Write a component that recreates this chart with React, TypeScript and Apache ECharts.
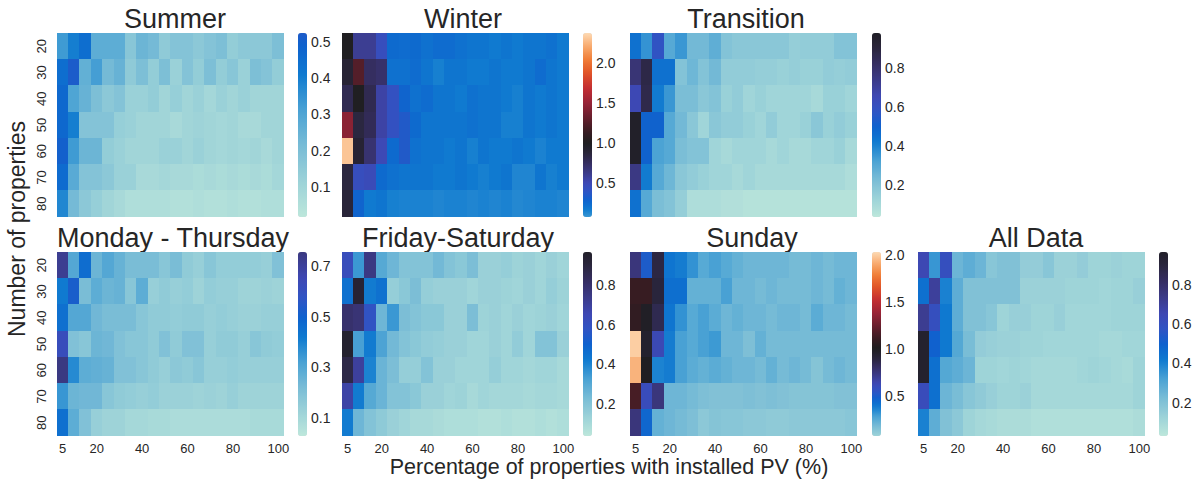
import React, { useEffect, useRef } from "react";
import * as echarts from "echarts";

// ---------- data ----------
const xCats = ["5","10","15","20","25","30","35","40","45","50","55","60","65","70","75","80","85","90","95","100"];
const yCats = ["20","30","40","50","60","70","80"];
const xLabelShown = ["5","20","40","60","80","100"];

const summer = [
  [0.33,0.40,0.45,0.27,0.27,0.27,0.17,0.24,0.22,0.15,0.18,0.18,0.16,0.18,0.20,0.14,0.16,0.16,0.16,0.20],
  [0.45,0.52,0.26,0.32,0.22,0.25,0.15,0.20,0.14,0.20,0.12,0.18,0.14,0.20,0.14,0.17,0.12,0.20,0.18,0.14],
  [0.47,0.30,0.25,0.20,0.16,0.18,0.12,0.12,0.14,0.10,0.13,0.10,0.12,0.09,0.12,0.10,0.12,0.10,0.10,0.10],
  [0.47,0.40,0.18,0.18,0.18,0.13,0.12,0.10,0.10,0.10,0.08,0.10,0.11,0.10,0.09,0.10,0.08,0.08,0.10,0.10],
  [0.50,0.33,0.24,0.24,0.14,0.12,0.10,0.10,0.10,0.12,0.12,0.10,0.12,0.10,0.09,0.10,0.09,0.10,0.08,0.10],
  [0.46,0.28,0.18,0.18,0.16,0.12,0.12,0.08,0.08,0.09,0.08,0.08,0.07,0.08,0.07,0.08,0.07,0.08,0.07,0.09],
  [0.38,0.22,0.16,0.13,0.10,0.08,0.06,0.06,0.06,0.06,0.05,0.05,0.06,0.05,0.05,0.06,0.05,0.05,0.06,0.06],
];
const winter = [
  [1.00,0.60,0.60,0.45,0.25,0.24,0.25,0.22,0.24,0.24,0.22,0.20,0.20,0.18,0.20,0.18,0.20,0.20,0.22,0.18],
  [0.90,1.25,0.75,0.72,0.22,0.22,0.24,0.20,0.16,0.20,0.20,0.18,0.18,0.20,0.18,0.18,0.20,0.24,0.20,0.18],
  [0.80,1.00,0.80,0.55,0.42,0.28,0.22,0.24,0.20,0.20,0.18,0.22,0.20,0.20,0.18,0.16,0.20,0.18,0.20,0.18],
  [1.45,0.85,0.78,0.55,0.42,0.35,0.25,0.20,0.20,0.20,0.20,0.22,0.20,0.20,0.16,0.16,0.20,0.18,0.20,0.18],
  [2.30,0.90,0.70,0.50,0.25,0.35,0.22,0.20,0.20,0.18,0.20,0.16,0.20,0.18,0.18,0.20,0.18,0.15,0.18,0.18],
  [0.85,0.45,0.48,0.25,0.22,0.20,0.20,0.20,0.18,0.18,0.20,0.18,0.16,0.18,0.20,0.14,0.14,0.20,0.16,0.18],
  [0.88,0.28,0.18,0.20,0.16,0.15,0.15,0.15,0.14,0.15,0.15,0.14,0.15,0.14,0.15,0.13,0.14,0.15,0.15,0.14],
];
const transition = [
  [0.45,0.36,0.58,0.30,0.35,0.24,0.24,0.28,0.20,0.18,0.18,0.18,0.18,0.18,0.15,0.16,0.16,0.16,0.20,0.20],
  [0.78,0.88,0.45,0.45,0.20,0.25,0.20,0.24,0.16,0.16,0.16,0.15,0.15,0.14,0.15,0.14,0.14,0.16,0.15,0.16],
  [0.65,0.87,0.42,0.35,0.22,0.22,0.18,0.20,0.14,0.16,0.12,0.14,0.12,0.12,0.12,0.12,0.10,0.14,0.14,0.12],
  [0.97,0.50,0.50,0.30,0.24,0.18,0.12,0.18,0.16,0.16,0.14,0.12,0.16,0.12,0.12,0.14,0.18,0.14,0.16,0.14],
  [0.97,0.50,0.32,0.30,0.22,0.20,0.20,0.12,0.10,0.12,0.12,0.12,0.10,0.12,0.10,0.10,0.12,0.12,0.14,0.10],
  [0.75,0.42,0.30,0.25,0.18,0.16,0.14,0.12,0.12,0.10,0.12,0.10,0.10,0.10,0.10,0.10,0.10,0.10,0.10,0.08],
  [0.45,0.30,0.22,0.20,0.15,0.08,0.08,0.08,0.07,0.07,0.06,0.06,0.06,0.06,0.06,0.06,0.06,0.06,0.06,0.06],
];
const monThu = [
  [0.72,0.30,0.46,0.25,0.30,0.26,0.22,0.22,0.22,0.18,0.22,0.16,0.14,0.18,0.15,0.15,0.15,0.15,0.14,0.20],
  [0.42,0.52,0.22,0.28,0.25,0.26,0.18,0.28,0.14,0.16,0.14,0.15,0.12,0.15,0.14,0.14,0.12,0.12,0.13,0.12],
  [0.45,0.30,0.30,0.24,0.22,0.22,0.22,0.18,0.16,0.16,0.15,0.16,0.16,0.14,0.15,0.14,0.13,0.13,0.14,0.14],
  [0.62,0.20,0.18,0.25,0.24,0.20,0.18,0.18,0.16,0.20,0.16,0.20,0.20,0.14,0.16,0.16,0.14,0.18,0.16,0.15],
  [0.75,0.38,0.28,0.27,0.26,0.20,0.20,0.18,0.16,0.14,0.17,0.16,0.18,0.14,0.14,0.15,0.14,0.14,0.14,0.14],
  [0.35,0.25,0.24,0.24,0.18,0.16,0.15,0.14,0.15,0.13,0.13,0.13,0.12,0.13,0.12,0.14,0.12,0.12,0.12,0.12],
  [0.45,0.28,0.20,0.14,0.12,0.12,0.10,0.10,0.09,0.09,0.08,0.08,0.08,0.08,0.08,0.08,0.08,0.09,0.09,0.09],
];
const friSat = [
  [0.62,0.35,0.75,0.30,0.25,0.20,0.20,0.20,0.24,0.20,0.18,0.22,0.14,0.14,0.15,0.13,0.14,0.12,0.14,0.12],
  [0.45,0.93,0.42,0.45,0.15,0.18,0.22,0.15,0.14,0.14,0.14,0.12,0.14,0.14,0.13,0.12,0.14,0.12,0.15,0.13],
  [0.80,0.78,0.58,0.25,0.35,0.22,0.20,0.18,0.18,0.14,0.14,0.22,0.13,0.14,0.12,0.14,0.12,0.13,0.14,0.12],
  [0.95,0.33,0.42,0.32,0.24,0.20,0.18,0.16,0.15,0.14,0.14,0.12,0.12,0.14,0.12,0.16,0.12,0.20,0.20,0.14],
  [0.88,0.70,0.40,0.26,0.22,0.15,0.15,0.20,0.14,0.14,0.12,0.12,0.12,0.15,0.12,0.12,0.11,0.12,0.12,0.10],
  [0.68,0.42,0.30,0.26,0.20,0.20,0.18,0.14,0.14,0.12,0.13,0.10,0.12,0.11,0.11,0.11,0.10,0.11,0.11,0.10],
  [0.42,0.25,0.20,0.17,0.14,0.12,0.10,0.10,0.09,0.08,0.08,0.08,0.07,0.07,0.08,0.07,0.07,0.08,0.07,0.08],
];
const sunday = [
  [0.75,0.50,0.88,0.40,0.38,0.32,0.25,0.28,0.25,0.22,0.20,0.20,0.20,0.20,0.18,0.18,0.20,0.18,0.20,0.20],
  [1.10,1.10,0.90,0.42,0.42,0.22,0.22,0.22,0.28,0.20,0.20,0.18,0.20,0.18,0.18,0.18,0.20,0.18,0.22,0.20],
  [1.08,0.98,0.85,0.40,0.32,0.25,0.28,0.24,0.20,0.22,0.20,0.20,0.18,0.20,0.20,0.18,0.24,0.20,0.20,0.18],
  [2.00,0.95,0.62,0.38,0.28,0.25,0.28,0.30,0.20,0.20,0.16,0.22,0.18,0.18,0.18,0.18,0.18,0.18,0.18,0.18],
  [1.93,1.00,0.36,0.38,0.28,0.24,0.22,0.24,0.22,0.20,0.20,0.18,0.22,0.18,0.20,0.18,0.14,0.18,0.20,0.18],
  [1.15,0.60,0.75,0.20,0.20,0.18,0.16,0.15,0.15,0.15,0.16,0.15,0.16,0.15,0.14,0.14,0.14,0.14,0.15,0.15],
  [0.75,0.45,0.22,0.20,0.18,0.16,0.12,0.14,0.13,0.13,0.12,0.12,0.11,0.11,0.12,0.12,0.12,0.12,0.12,0.13],
];
const allData = [
  [0.65,0.35,0.60,0.25,0.28,0.25,0.18,0.20,0.20,0.15,0.15,0.18,0.13,0.13,0.15,0.12,0.12,0.13,0.12,0.12],
  [0.45,0.70,0.40,0.28,0.20,0.20,0.20,0.20,0.20,0.13,0.13,0.13,0.13,0.12,0.12,0.12,0.11,0.12,0.12,0.14],
  [0.72,0.60,0.42,0.28,0.20,0.20,0.18,0.12,0.14,0.14,0.12,0.12,0.14,0.11,0.11,0.11,0.11,0.12,0.12,0.12],
  [0.95,0.50,0.42,0.30,0.22,0.15,0.14,0.13,0.13,0.12,0.12,0.11,0.11,0.11,0.11,0.11,0.10,0.10,0.11,0.11],
  [0.95,0.45,0.30,0.28,0.25,0.12,0.12,0.11,0.12,0.11,0.10,0.10,0.10,0.10,0.11,0.12,0.11,0.10,0.09,0.12],
  [0.62,0.45,0.25,0.22,0.18,0.16,0.14,0.12,0.12,0.13,0.10,0.10,0.10,0.10,0.10,0.10,0.10,0.10,0.10,0.12],
  [0.40,0.28,0.20,0.17,0.12,0.10,0.09,0.08,0.08,0.08,0.07,0.07,0.07,0.07,0.07,0.07,0.07,0.07,0.07,0.08],
];

const panelNames = ["Summer", "Winter", "Transition", "Monday - Thursday", "Friday-Saturday", "Sunday", "All Data"];
const panelData = [summer, winter, transition, monThu, friSat, sunday, allData];
const cbarMin = [0.017, 0.08, 0.036, 0.03, 0.037, 0.07, 0.03];
const cbarMax = [0.525, 2.37, 0.98, 0.755, 0.968, 2.03, 0.967];
const cbarTicks = [
  [0.1, 0.2, 0.3, 0.4, 0.5],
  [0.5, 1.0, 1.5, 2.0],
  [0.2, 0.4, 0.6, 0.8],
  [0.1, 0.3, 0.5, 0.7],
  [0.2, 0.4, 0.6, 0.8],
  [0.5, 1.0, 1.5, 2.0],
  [0.2, 0.4, 0.6, 0.8],
];
const cmapCenter = 1.0;
const xAxisTitle = "Percentage of properties with installed PV (%)";
const yAxisTitle = "Number of properties";

// ---------- layout / style ----------
const FONT = "'Liberation Sans', Arial, Helvetica, sans-serif";
const TXT = "#262626";
const heatLeft = [57, 342, 630, 918];
const heatWidth = 227;
const cbLeft = [298, 583, 872, 1159];
const cbWidth = 9;
const rowTop = [33, 252];
const rowHeight = 184;
const panelPos = [[0, 0], [1, 0], [2, 0], [0, 1], [1, 1], [2, 1], [3, 1]];
const titleCx = [175, 463, 746, 173, 458, 752, 1036];
const titleCy = [19, 238];

// icefire-like colormap stops
const ICEFIRE: [number, number, number, number][] = [
  [0.0, 189, 231, 219],
  [0.05, 156, 210, 216],
  [0.1, 120, 188, 214],
  [0.15, 74, 162, 212],
  [0.2, 15, 122, 208],
  [0.24, 14, 98, 206],
  [0.28, 48, 84, 196],
  [0.32, 62, 72, 180],
  [0.36, 60, 60, 140],
  [0.4, 55, 48, 104],
  [0.45, 42, 37, 60],
  [0.5, 30, 30, 32],
  [0.55, 55, 28, 34],
  [0.6, 90, 30, 42],
  [0.68, 150, 35, 55],
  [0.75, 195, 45, 50],
  [0.82, 225, 85, 40],
  [0.88, 240, 125, 55],
  [0.94, 248, 170, 110],
  [1.0, 253, 218, 180],
];
function icefire(t: number): string {
  const x = Math.max(0, Math.min(1, t));
  for (let i = 1; i < ICEFIRE.length; i++) {
    const a = ICEFIRE[i - 1], b = ICEFIRE[i];
    if (x <= b[0]) {
      const f = (x - a[0]) / (b[0] - a[0]);
      const r = Math.round(a[1] + (b[1] - a[1]) * f);
      const g = Math.round(a[2] + (b[2] - a[2]) * f);
      const bl = Math.round(a[3] + (b[3] - a[3]) * f);
      return `rgb(${r},${g},${bl})`;
    }
  }
  return "rgb(253,218,180)";
}
function panelColors(vmin: number, vmax: number): string[] {
  const vr = Math.max(vmax - cmapCenter, cmapCenter - vmin);
  const lo = cmapCenter - vr;
  const c0 = (vmin - lo) / (2 * vr);
  const c1 = (vmax - lo) / (2 * vr);
  const out: string[] = [];
  const n = 48;
  for (let i = 0; i <= n; i++) out.push(icefire(c0 + ((c1 - c0) * i) / n));
  return out;
}

function buildOption() {
  const grid: any[] = [];
  const xAxis: any[] = [];
  const yAxis: any[] = [];
  const series: any[] = [];
  const visualMap: any[] = [];
  const graphic: any[] = [];

  panelNames.forEach((name, i) => {
    const [col, row] = panelPos[i];
    const top = rowTop[row];
    grid.push({ left: heatLeft[col], top, width: heatWidth, height: rowHeight, containLabel: false });
    grid.push({ left: cbLeft[col], top, width: cbWidth, height: rowHeight, containLabel: false });
    const hg = 2 * i, cg = 2 * i + 1;
    xAxis.push({
      gridIndex: hg,
      type: "category",
      data: xCats,
      axisLine: { show: false },
      axisTick: { show: false },
      splitLine: { show: false },
      axisLabel: {
        show: row === 1,
        interval: (_idx: number, val: string) => xLabelShown.includes(val),
        fontSize: 13,
        color: TXT,
        fontFamily: FONT,
        margin: 6,
      },
    });
    yAxis.push({
      gridIndex: hg,
      type: "category",
      data: yCats,
      inverse: true,
      axisLine: { show: false },
      axisTick: { show: false },
      splitLine: { show: false },
      axisLabel: {
        show: col === 0,
        rotate: 90,
        fontSize: 13,
        color: TXT,
        fontFamily: FONT,
        margin: 9,
      },
    });
    xAxis.push({ gridIndex: cg, type: "value", show: false, min: 0, max: 1 });
    yAxis.push({
      gridIndex: cg,
      type: "value",
      position: "right",
      min: cbarMin[i],
      max: cbarMax[i],
      axisLine: { show: false },
      splitLine: { show: false },
      axisTick: {
        show: true,
        length: 4,
        lineStyle: { color: TXT, width: 1 },
        customValues: cbarTicks[i],
      },
      axisLabel: {
        customValues: cbarTicks[i],
        formatter: (v: number) => v.toFixed(1),
        fontSize: 14,
        color: TXT,
        fontFamily: FONT,
        margin: 4,
      },
    });
    const data: any[] = [];
    panelData[i].forEach((r, yi) => r.forEach((v, xi) => data.push([xi, yi, v])));
    series.push({
      type: "heatmap",
      name,
      xAxisIndex: hg,
      yAxisIndex: hg,
      data,
      emphasis: { disabled: true },
      itemStyle: { borderWidth: 0 },
      silent: true,
    });
    visualMap.push({
      type: "continuous",
      seriesIndex: i,
      min: cbarMin[i],
      max: cbarMax[i],
      calculable: false,
      orient: "vertical",
      left: cbLeft[col],
      top,
      itemWidth: cbWidth,
      itemHeight: rowHeight,
      padding: 0,
      hoverLink: false,
      text: ["", ""],
      inRange: { color: panelColors(cbarMin[i], cbarMax[i]) },
    });
    graphic.push({
      type: "text",
      x: titleCx[i],
      y: titleCy[row],
      style: {
        text: name,
        fill: TXT,
        font: `27px ${FONT}`,
        textAlign: "center",
        textVerticalAlign: "middle",
      },
    });
  });

  graphic.push({
    type: "text",
    x: 609,
    y: 467,
    style: { text: xAxisTitle, fill: TXT, font: `21.5px ${FONT}`, textAlign: "center", textVerticalAlign: "middle" },
  });
  graphic.push({
    type: "text",
    x: 17,
    y: 229,
    rotation: Math.PI / 2,
    style: { text: yAxisTitle, fill: TXT, font: `23px ${FONT}`, textAlign: "center", textVerticalAlign: "middle" },
  });

  return {
    animation: false,
    backgroundColor: "#ffffff",
    grid,
    xAxis,
    yAxis,
    series,
    visualMap,
    graphic,
  };
}

export default function App() {
  const ref = useRef<HTMLDivElement>(null);
  useEffect(() => {
    if (!ref.current) return;
    const chart = echarts.init(ref.current, undefined, { renderer: "svg" });
    chart.setOption(buildOption());
    return () => chart.dispose();
  }, []);
  return (
    <>
      <style>{`#heatchart svg path { shape-rendering: crispEdges; }`}</style>
      <div
        id="heatchart"
        ref={ref}
        style={{ position: "absolute", left: 0, top: 0, width: 1199, height: 483 }}
      />
    </>
  );
}
